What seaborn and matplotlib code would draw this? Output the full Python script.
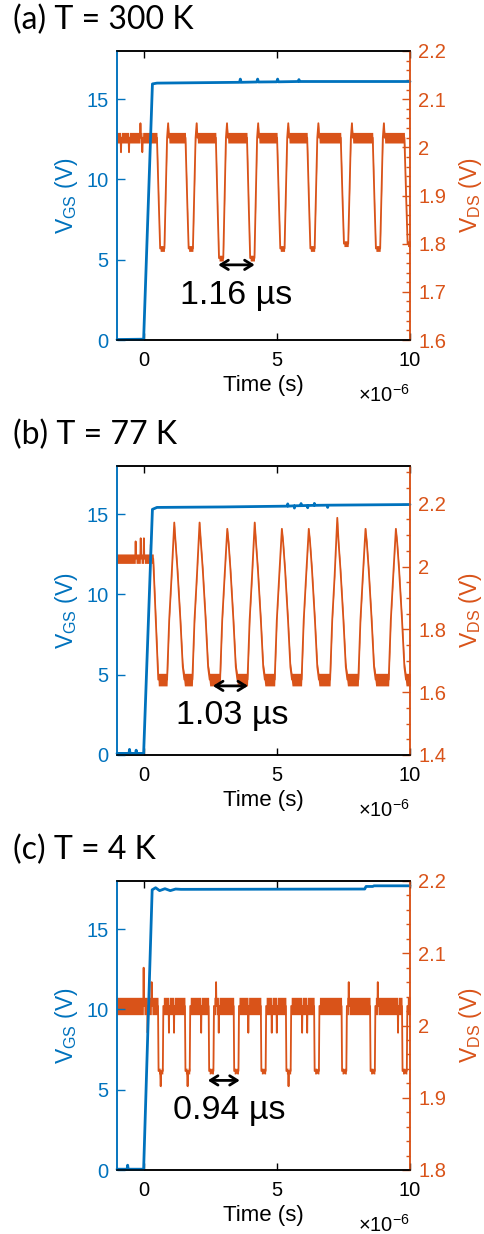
import matplotlib
matplotlib.use("Agg")
import matplotlib.pyplot as plt
import numpy as np
import pandas as pd
import seaborn as sns
from matplotlib.ticker import MultipleLocator, FuncFormatter, FixedLocator

sns.set_theme(style="white")
plt.rcParams['font.family'] = ['Liberation Sans', 'DejaVu Sans']
plt.rcParams['mathtext.fontset'] = 'custom'
plt.rcParams['mathtext.rm'] = 'Liberation Sans'
plt.rcParams['mathtext.it'] = 'Liberation Sans:italic'
plt.rcParams['mathtext.bf'] = 'Liberation Sans:bold'

BLUE = '#0072BD'
ORANGE = '#D95319'

# ---------------- data (time in microseconds) ----------------
panel_titles = ['(a) T = 300 K', '(b) T = 77 K', '(c) T = 4 K']
period_labels = ['1.16 µs', '1.03 µs', '0.94 µs']
x_ticks = [0, 5, 10]
vgs_ticks = [0, 5, 10, 15]
vds_ticks_a = [1.6, 1.7, 1.8, 1.9, 2.0, 2.1, 2.2]
vds_ticks_b = [1.4, 1.6, 1.8, 2.0, 2.2]
vds_ticks_c = [1.8, 1.9, 2.0, 2.1, 2.2]

# V_GS traces
vgs_t_a = [-1.0, 0.0, 0.33, 0.5, 3.6, 3.63, 3.66, 4.25, 4.28, 4.31, 5.0, 5.03, 5.06, 5.8, 5.83, 5.86, 10.0]
vgs_v_a = [0.03, 0.05, 15.95, 16.0, 16.05, 16.25, 16.05, 16.07, 16.25, 16.07, 16.08, 16.25, 16.08, 16.1, 16.22, 16.1, 16.1]
vgs_t_b = [-1.0, -0.55, -0.53, -0.51, -0.3, -0.28, -0.26, 0.0, 0.33, 0.5, 3.0, 5.4, 5.41, 5.42, 5.65, 5.66, 5.67,
           5.9, 5.91, 5.92, 6.15, 6.16, 6.17, 6.4, 6.41, 6.42, 6.9, 6.91, 6.92, 10.0]
vgs_v_b = [0.1, 0.1, 0.35, 0.1, 0.1, 0.3, 0.1, 0.1, 15.3, 15.42, 15.45, 15.5, 15.64, 15.5, 15.52, 15.38, 15.52,
           15.53, 15.66, 15.53, 15.54, 15.4, 15.54, 15.55, 15.67, 15.55, 15.56, 15.42, 15.56, 15.6]
vgs_t_c = [-1.0, -0.62, -0.6, -0.58, 0.0, 0.32, 0.45, 0.6, 0.8, 1.0, 1.2, 1.4, 8.3, 8.35, 8.6, 8.65, 10.0]
vgs_v_c = [0.05, 0.05, 0.3, 0.05, 0.05, 17.45, 17.58, 17.4, 17.52, 17.4, 17.5, 17.48, 17.5, 17.66, 17.66, 17.7, 17.7]

# V_DS panel (a): high level, dips
vds_a_high = 2.02
vds_a_spike = 2.05
vds_a_pre_t = [-0.85, -0.55, -0.12, -0.05]
vds_a_pre_v = [1.99, 1.99, 2.05, 1.99]
vds_a_dip_t = [0.71, 1.78, 2.92, 4.09, 5.22, 6.35, 7.61, 8.81, 10.0]
vds_a_dip_v = [1.79, 1.79, 1.77, 1.77, 1.79, 1.79, 1.80, 1.79, 1.80]

# V_DS panel (b): pre-switch level, floor, peaks
vds_b_pre = 2.025
vds_b_pre_t = [-0.3, -0.11, 0.01, 0.27]
vds_b_pre_v = [2.08, 2.09, 2.09, 2.07]
vds_b_floor = 1.64
vds_b_peak_t = [1.15, 2.10, 3.14, 4.17, 5.19, 6.20, 7.27, 8.33, 9.47]
vds_b_peak_v = [2.14, 2.14, 2.12, 2.14, 2.12, 2.12, 2.155, 2.12, 2.12]

# V_DS panel (c): high level, dips, spikes
vds_c_high = 2.027
vds_c_dip_t = [0.64, 1.65, 2.54, 3.48, 4.5, 5.44, 6.5, 7.53, 8.6, 9.8]
vds_c_dip_v = [1.916, 1.916, 1.937, 1.937, 1.937, 1.916, 1.937, 1.937, 1.937, 1.937]
vds_c_spike_t = [0.0, 0.3, 0.15, 0.95, 1.14, 2.16, 2.72, 2.82, 3.93, 4.81, 5.0, 5.95, 6.14, 7.7, 8.79, 9.55]
vds_c_spike_v = [2.08, 2.06, 1.99, 1.99, 1.99, 1.99, 2.06, 1.99, 1.99, 1.99, 1.99, 1.99, 1.99, 2.06, 2.06, 1.99]

# period markers (arrow start, arrow end, level on V_DS axis) and label centre
arrow_a = (2.8, 4.17, 1.756)
arrow_b = (2.6, 3.92, 1.62)
arrow_c = (2.41, 3.61, 1.924)
label_a = (3.48, 1.693)
label_b = (3.33, 1.527)
label_c = (3.22, 1.882)


# ---------------- trace assembly ----------------
def trace_a():
    H, n = vds_a_high, 0.011
    pts = [(-1.05, H, n), (10.4, H, n)]
    for tt, vv in zip(vds_a_pre_t, vds_a_pre_v):
        pts += [(tt - 0.015, H, n), (tt, vv, 0.003), (tt + 0.015, H, n)]
    for c, d in zip(vds_a_dip_t, vds_a_dip_v):
        pts += [(c - 0.21, H, n), (c - 0.14, H - 0.6 * (H - d), 0.006), (c - 0.09, d, 0.006),
                (c + 0.07, d, 0.006), (c + 0.17, H, n), (c + 0.21, vds_a_spike, 0.003), (c + 0.24, H, n)]
    pts.sort(key=lambda p: p[0])
    return zip(*pts)


def trace_b():
    P, F = vds_b_pre, vds_b_floor
    pts = [(-1.05, P, 0.015)]
    for tt, vv in zip(vds_b_pre_t, vds_b_pre_v):
        pts += [(tt - 0.015, P, 0.015), (tt, vv, 0.003), (tt + 0.015, P, 0.015)]
    pts += [(0.36, P, 0.015), (0.55, F, 0.02)]
    for p, h in zip(vds_b_peak_t, vds_b_peak_v):
        pts += [(p - 0.27, F, 0.02), (p - 0.19, 1.83, 0.01), (p - 0.1, 1.97, 0.008), (p, h, 0.004),
                (p + 0.05, 2.075, 0.008), (p + 0.12, 1.99, 0.01), (p + 0.23, 1.83, 0.012),
                (p + 0.32, 1.68, 0.015), (p + 0.38, F, 0.02)]
    pts.append((10.4, F, 0.02))
    pts.sort(key=lambda q: q[0])
    return zip(*pts)


def trace_c():
    H, n = vds_c_high, 0.012
    pts = [(-1.05, H, n), (10.4, H, n)]
    for tt, vv in zip(vds_c_spike_t, vds_c_spike_v):
        pts += [(tt - 0.012, H, n), (tt, vv, 0.003), (tt + 0.012, H, n)]
    for c, d in zip(vds_c_dip_t, vds_c_dip_v):
        pts += [(c - 0.1, H, n), (c - 0.08, 1.937, 0.004), (c - 0.02, 1.937, 0.004), (c, d, 0.003),
                (c + 0.02, 1.937, 0.004), (c + 0.08, 1.937, 0.004), (c + 0.1, H, n)]
    pts.sort(key=lambda p: p[0])
    return zip(*pts)


panels = [
    dict(vgs_t=vgs_t_a, vgs_v=vgs_v_a, vds=trace_a(), ylim2=(1.6, 2.2), ticks2=vds_ticks_a, minor2=0.02,
         arrow=arrow_a, label=label_a, top_px=51),
    dict(vgs_t=vgs_t_b, vgs_v=vgs_v_b, vds=trace_b(), ylim2=(1.4, 2.32), ticks2=vds_ticks_b, minor2=0.05,
         arrow=arrow_b, label=label_b, top_px=466),
    dict(vgs_t=vgs_t_c, vgs_v=vgs_v_c, vds=trace_c(), ylim2=(1.8, 2.2), ticks2=vds_ticks_c, minor2=0.02,
         arrow=arrow_c, label=label_c, top_px=881),
]

W, H_PX = 485, 1234
fig = plt.figure(figsize=(W / 100, H_PX / 100), dpi=100)
fig.patch.set_facecolor('white')

left_px, right_px, ax_h_px = 117, 410, 289
fmt2 = FuncFormatter(lambda v, p: f'{round(v, 2):g}')

for i, pn in enumerate(panels):
    bottom_px = pn['top_px'] + ax_h_px
    ax = fig.add_axes([left_px / W, 1 - bottom_px / H_PX, (right_px - left_px) / W, ax_h_px / H_PX])
    ax2 = ax.twinx()
    ax.set_zorder(ax2.get_zorder() + 1)
    ax.patch.set_visible(False)

    # V_DS on the right axis
    t_ds, v_ds, n_ds = (np.array(a) for a in pn['vds'])
    ax2.fill_between(t_ds, v_ds - n_ds, v_ds + n_ds, color=ORANGE, lw=0)
    df_ds = pd.DataFrame({'t': t_ds, 'v': v_ds})
    sns.lineplot(data=df_ds, x='t', y='v', ax=ax2, sort=False, estimator=None, color=ORANGE, lw=1.3)

    # V_GS on the left axis
    df_gs = pd.DataFrame({'t': pn['vgs_t'], 'v': pn['vgs_v']})
    sns.lineplot(data=df_gs, x='t', y='v', ax=ax, sort=False, estimator=None, color=BLUE, lw=2.0)
    for ln in ax.lines:
        ln.set_clip_on(False)

    ax.set_xlim(-1, 10)
    ax.set_ylim(0, 18)
    ax2.set_ylim(*pn['ylim2'])
    ax.xaxis.set_major_locator(FixedLocator(x_ticks))
    ax.yaxis.set_major_locator(FixedLocator(vgs_ticks))
    ax2.yaxis.set_major_locator(FixedLocator(pn['ticks2']))
    ax2.yaxis.set_minor_locator(MultipleLocator(pn['minor2']))
    ax2.yaxis.set_major_formatter(fmt2)

    ax.tick_params(axis='x', direction='in', top=True, bottom=True, length=5, width=1,
                   colors='black', labelsize=14.5, pad=8)
    ax.tick_params(axis='y', direction='in', left=True, right=False, length=6, width=1,
                   colors=BLUE, labelsize=14.5, pad=6)
    ax2.tick_params(axis='y', which='major', direction='in', right=True, length=6, width=1,
                    colors=ORANGE, labelsize=14.5, pad=6)
    ax2.tick_params(axis='y', which='minor', direction='in', right=True, length=3, width=1, colors=ORANGE)

    for a in (ax, ax2):
        a.spines['left'].set_color(BLUE)
        a.spines['right'].set_color(ORANGE)
        a.spines['top'].set_color('black')
        a.spines['bottom'].set_color('black')
        for s in a.spines.values():
            s.set_linewidth(1.1)

    ax.set_xlabel('Time (s)', fontsize=16, color='black')
    ax.xaxis.set_label_coords(0.5, -0.12)
    ax.set_ylabel('V$_{\\mathrm{GS}}$ (V)', fontsize=16.5, color=BLUE)
    ax.yaxis.set_label_coords(-0.125, 0.5)
    ax2.set_ylabel('V$_{\\mathrm{DS}}$ (V)', fontsize=16.5, color=ORANGE)
    ax2.yaxis.set_label_coords(1.16, 0.5)

    ax.text(1.0, -0.19, r'$\times$10$^{-6}$', transform=ax.transAxes, ha='right', va='center',
            fontsize=14.5, color='black')

    # period marker
    x1, x2, yv = pn['arrow']
    ax2.annotate('', xy=(x2, yv), xytext=(x1, yv),
                 arrowprops=dict(arrowstyle='<->,head_length=0.45,head_width=0.28', lw=2.0,
                                 color='black', shrinkA=0, shrinkB=0))
    lx, ly = pn['label']
    ax2.text(lx, ly, period_labels[i], ha='center', va='center', fontsize=24.5,
             color='black', transform=ax2.transData)

    fig.text(13 / W, 1 - (pn['top_px'] - 31) / H_PX, panel_titles[i], ha='left', va='center',
             fontsize=23, family=['Lato', 'DejaVu Sans'], color='black')

fig.savefig('out.png', dpi=100, facecolor='white')
